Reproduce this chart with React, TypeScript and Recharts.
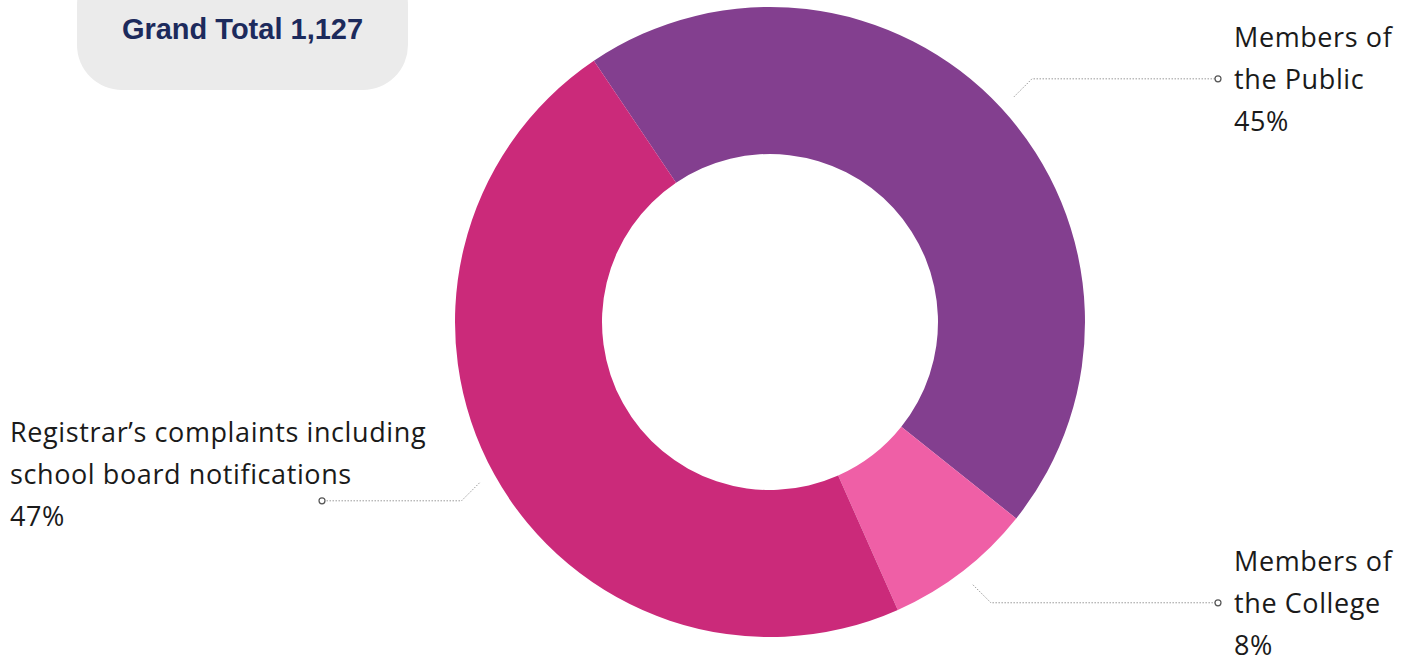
import { PieChart, Pie, Cell } from "recharts";

const categories = [
  "Members of the Public",
  "Members of the College",
  "Registrar’s complaints including school board notifications",
];
const counts = [509, 86, 532];
const colors = ["#833f8f", "#ef5fa6", "#cb2a7a"];
const labelText = [
  ["Members of", "the Public"],
  ["Members of", "the College"],
  ["Registrar’s complaints including", "school board notifications"],
];

const total = counts.reduce((a, b) => a + b, 0);
const data = categories.map((name, i) => ({ name, value: counts[i] }));

const RAD = Math.PI / 180;
const FONT = "'Open Sans', sans-serif";

function renderLabel(props: any) {
  const { cx, cy, midAngle, outerRadius, index, value } = props;
  const r = outerRadius + 17;
  const a = {
    x: cx + r * Math.cos(-midAngle * RAD),
    y: cy + r * Math.sin(-midAngle * RAD),
  };
  const right = a.x > cx;
  const down = a.y > cy;
  // 45° elbow, then horizontal run to the marker
  const b = { x: a.x + (right ? 18 : -18), y: a.y + (down ? 18 : -18) };
  const endX = right ? cx + 448 : cx - 448;
  const pct = Math.round((value / total) * 100) + "%";
  const lines = [...labelText[index], pct];
  const textX = right ? endX + 16 : 10;
  const offsets = right ? [-42, 0, 42] : [-69, -27, 15];
  return (
    <g key={index}>
      <polyline
        points={`${a.x},${a.y} ${b.x},${b.y} ${endX},${b.y}`}
        fill="none"
        stroke="#9a9a9a"
        strokeWidth={1}
        strokeDasharray="1.5 1.5"
      />
      <circle cx={endX} cy={b.y} r={3} fill="#fff" stroke="#555" strokeWidth={1.2} />
      {lines.map((t, i) => (
        <text
          key={i}
          x={textX}
          y={b.y + offsets[i]}
          dominantBaseline="central"
          textAnchor="start"
          fontSize={27}
          letterSpacing={0.6}
          fontFamily={FONT}
          fill="#1a1a1a"
        >
          {t}
        </text>
      ))}
    </g>
  );
}

export default function App() {
  return (
    <div style={{ position: "absolute", left: 0, top: 0, width: 1410, height: 659, background: "#fff" }}>
      <div
        style={{
          position: "absolute",
          left: 77,
          top: -40,
          width: 331,
          height: 130,
          background: "#ebebeb",
          borderRadius: 45,
          display: "flex",
          justifyContent: "center",
          paddingTop: 53,
          boxSizing: "border-box",
          fontFamily: "'Liberation Sans', Arial, sans-serif",
          fontWeight: 700,
          fontSize: 29,
          color: "#1c2a5c",
        }}
      >
        Grand Total {total.toLocaleString("en-US")}
      </div>
      <PieChart
        width={1410}
        height={659}
        margin={{ top: 0, right: 0, bottom: 0, left: 0 }}
        style={{ position: "absolute", left: 0, top: 0 }}
      >
        <Pie
          data={data}
          dataKey="value"
          nameKey="name"
          cx={770}
          cy={322}
          innerRadius={168}
          outerRadius={315}
          startAngle={124}
          endAngle={-236}
          stroke="none"
          label={renderLabel}
          labelLine={false}
          isAnimationActive={false}
        >
          {data.map((d, i) => (
            <Cell key={d.name} fill={colors[i]} />
          ))}
        </Pie>
      </PieChart>
    </div>
  );
}
